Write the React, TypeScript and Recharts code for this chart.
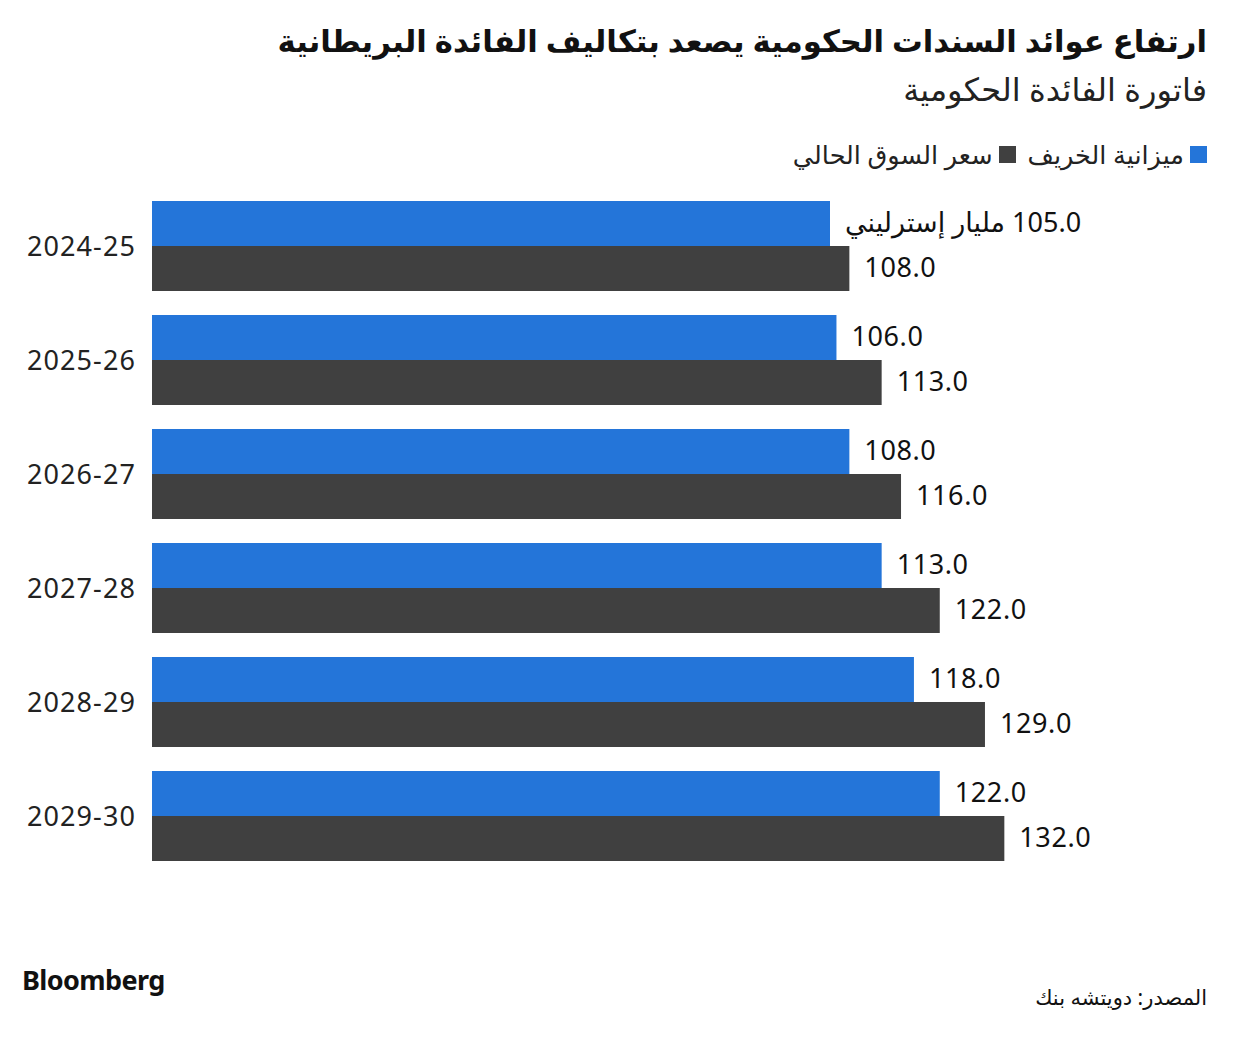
import React from "react";
import { BarChart, Bar, XAxis, YAxis, LabelList } from "recharts";

const categories = ["2024-25", "2025-26", "2026-27", "2027-28", "2028-29", "2029-30"];
const autumnBudget = [105, 106, 108, 113, 118, 122];
const marketRate = [108, 113, 116, 122, 129, 132];

const seriesNames = ["ميزانية الخريف", "سعر السوق الحالي"];
const unitLabel = "مليار إسترليني";
const title = "ارتفاع عوائد السندات الحكومية يصعد بتكاليف الفائدة البريطانية";
const subtitle = "فاتورة الفائدة الحكومية";
const source = "المصدر: دويتشه بنك";

const BLUE = "#2475d9";
const DARK = "#404040";
const FONT = "'Noto Sans', 'DejaVu Sans', sans-serif";

const data = categories.map((c, i) => ({ cat: c, autumn: autumnBudget[i], market: marketRate[i] }));

const makeLabel = (withUnit: boolean) => (props: any) => {
  const { x, y, width, height, value, index } = props;
  const txt = value.toFixed(1);
  const content = withUnit && index === 0 ? "\u202B" + txt + " " + unitLabel + "\u202C" : txt;
  return (
    <text
      x={x + width + 15}
      y={y + height / 2 - 2}
      dominantBaseline="central"
      textAnchor="start"
      fontSize={27}
      letterSpacing={0.6}
      fill="#111"
      fontFamily={FONT}
    >
      {content}
    </text>
  );
};

const YTick = (props: any) => {
  const { x, y, payload } = props;
  return (
    <text x={x} y={y - 1} textAnchor="end" dominantBaseline="central" fontSize={27} letterSpacing={1.1} fill="#222" fontFamily={FONT}>
      {payload.value}
    </text>
  );
};

export default function App() {
  return (
    <div style={{ position: "absolute", left: 0, top: 0, width: 1240, height: 1042, background: "#fff", fontFamily: FONT }}>
      <div dir="rtl" style={{ position: "absolute", right: 33, top: 19, fontSize: 30.7, fontWeight: 700, color: "#111", whiteSpace: "nowrap" }}>
        {title}
      </div>
      <div dir="rtl" style={{ position: "absolute", right: 33, top: 67, fontSize: 32, color: "#222", whiteSpace: "nowrap" }}>
        {subtitle}
      </div>
      <div dir="rtl" style={{ position: "absolute", right: 33, top: 137, display: "flex", alignItems: "center", fontSize: 25.5, color: "#222", whiteSpace: "nowrap" }}>
        <span style={{ display: "inline-block", width: 17, height: 17, background: BLUE, marginLeft: 6 }} />
        <span style={{ marginLeft: 12 }}>{seriesNames[0]}</span>
        <span style={{ display: "inline-block", width: 17, height: 17, background: DARK, marginLeft: 6 }} />
        <span>{seriesNames[1]}</span>
      </div>
      <div style={{ position: "absolute", left: 0, top: 0 }}>
        <BarChart
          width={1240}
          height={1042}
          data={data}
          layout="vertical"
          margin={{ top: 189, bottom: 169, left: 32, right: 184 }}
          barCategoryGap={12}
          barGap={0}
        >
          <XAxis type="number" domain={[0, 140]} hide />
          <YAxis
            type="category"
            dataKey="cat"
            width={120}
            axisLine={false}
            tickLine={false}
            tickSize={0}
            tickMargin={16}
            tick={<YTick />}
          />
          <Bar dataKey="autumn" fill={BLUE} isAnimationActive={false}>
            <LabelList dataKey="autumn" content={makeLabel(true)} />
          </Bar>
          <Bar dataKey="market" fill={DARK} isAnimationActive={false}>
            <LabelList dataKey="market" content={makeLabel(false)} />
          </Bar>
        </BarChart>
      </div>
      <div style={{ position: "absolute", left: 22, top: 961, fontSize: 27, fontWeight: 700, color: "#111", letterSpacing: -0.6 }}>
        Bloomberg
      </div>
      <div dir="rtl" style={{ position: "absolute", right: 33, top: 983, fontSize: 21, color: "#111", whiteSpace: "nowrap" }}>
        {source}
      </div>
    </div>
  );
}
